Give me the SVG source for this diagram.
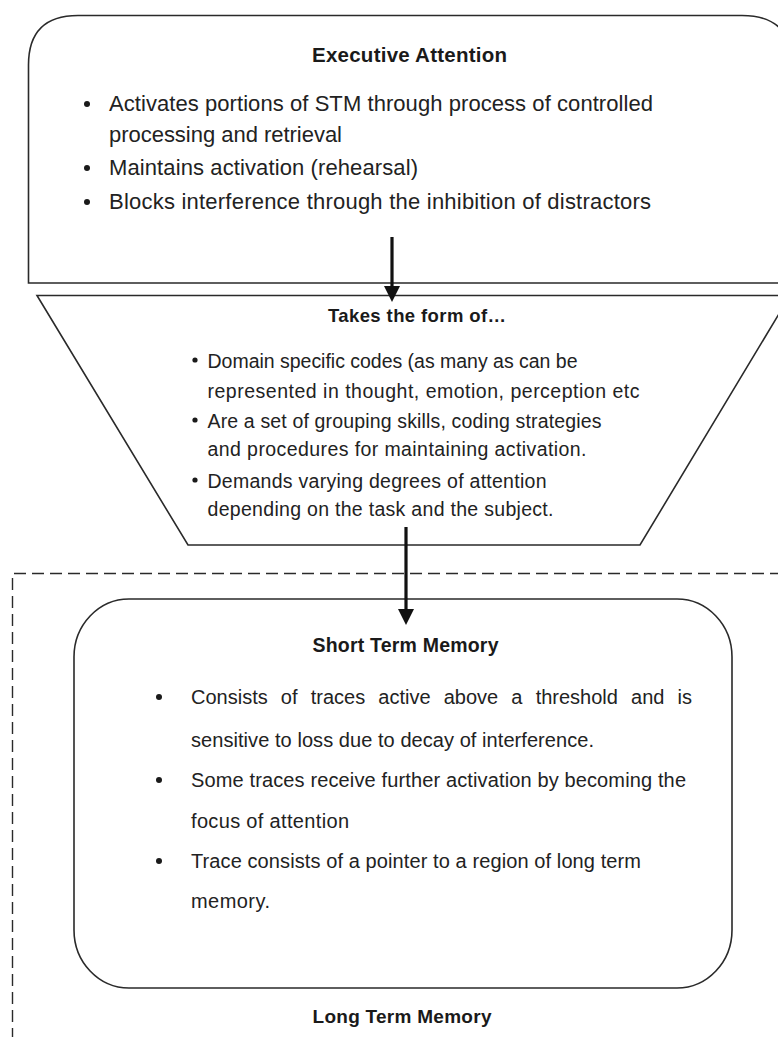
<svg xmlns="http://www.w3.org/2000/svg" width="778" height="1037" viewBox="0 0 778 1037">
  <style>
    .frame { fill: #fff; stroke: #2a2a2a; stroke-width: 1.6; }
    .dash { fill: none; stroke: #2a2a2a; stroke-width: 1.4; stroke-dasharray: 12 6; }
    .title { font-family: "Liberation Sans", Arial, sans-serif; font-weight: bold; fill: #1a1a1a; text-anchor: middle; }
    .body { font-family: "Liberation Sans", Arial, sans-serif; fill: #222; }
    .dot { fill: #1a1a1a; }
    .conn { stroke: #111; stroke-width: 3.2; fill: none; }
  </style>
  <defs>
    <marker id="head" markerWidth="18" markerHeight="18" refX="2" refY="8" orient="auto" markerUnits="userSpaceOnUse">
      <path d="M0,0 L16,8 L0,16 z" fill="#111"/>
    </marker>
  </defs>
  <rect width="778" height="1037" fill="#fff"/>

  <!-- Long term memory region (dashed, runs off the right and bottom edges) -->
  <g id="long-term-memory">
    <path class="dash" d="M12.5,1040 V573.5 H782"/>
    <text class="title" x="402" y="1023" font-size="19" textLength="179">Long Term Memory</text>
  </g>

  <!-- Executive attention box -->
  <g id="executive-attention">
    <path class="frame" d="M28.5,283 V65 Q28.5,15.5 78,15.5 H742 Q792,15.5 792,65 V283 Z"/>
    <text class="title" x="409.5" y="62" font-size="20.5" textLength="195">Executive Attention</text>
    <circle class="dot" cx="87" cy="104" r="3"/>
    <circle class="dot" cx="87" cy="168" r="3"/>
    <circle class="dot" cx="87" cy="202" r="3"/>
    <text class="body" x="109" y="111" font-size="22" textLength="544">Activates portions of STM through process of controlled</text>
    <text class="body" x="109" y="142" font-size="22" textLength="233">processing and retrieval</text>
    <text class="body" x="109" y="175" font-size="22" textLength="309">Maintains activation (rehearsal)</text>
    <text class="body" x="109" y="209" font-size="22" textLength="542">Blocks interference through the inhibition of distractors</text>
  </g>

  <!-- Funnel: takes the form of -->
  <g id="takes-the-form-of">
    <path class="frame" d="M37,295.5 H790 L640,545 H188 Z"/>
    <text class="title" x="417" y="322" font-size="18.5" textLength="178">Takes the form of…</text>
    <circle class="dot" cx="195" cy="360" r="2.6"/>
    <circle class="dot" cx="195" cy="420" r="2.6"/>
    <circle class="dot" cx="195" cy="480" r="2.6"/>
    <text class="body" x="207.5" y="368" font-size="19.5" textLength="370">Domain specific codes (as many as can be</text>
    <text class="body" x="207.5" y="398" font-size="19.5" textLength="432">represented in thought, emotion, perception etc</text>
    <text class="body" x="207.5" y="428" font-size="19.5" textLength="394">Are a set of grouping skills, coding strategies</text>
    <text class="body" x="207.5" y="456" font-size="19.5" textLength="379">and procedures for maintaining activation.</text>
    <text class="body" x="207.5" y="488" font-size="19.5" textLength="339">Demands varying degrees of attention</text>
    <text class="body" x="207.5" y="516" font-size="19.5" textLength="346">depending on the task and the subject.</text>
  </g>

  <!-- Short term memory box -->
  <g id="short-term-memory">
    <rect class="frame" x="74" y="599" width="658" height="389" rx="55" ry="58"/>
    <text class="title" x="405.5" y="652" font-size="19.5" textLength="186">Short Term Memory</text>
    <circle class="dot" cx="159" cy="697" r="3"/>
    <circle class="dot" cx="159" cy="780" r="3"/>
    <circle class="dot" cx="159" cy="861" r="3"/>
    <!-- justified first line: extra space between words -->
    <text class="body" x="191" y="704" font-size="20" word-spacing="7.6">Consists of traces active above a threshold and is</text>
    <text class="body" x="191" y="747" font-size="20" textLength="403">sensitive to loss due to decay of interference.</text>
    <text class="body" x="191" y="787" font-size="20" textLength="495">Some traces receive further activation by becoming the</text>
    <text class="body" x="191" y="828" font-size="20" textLength="158">focus of attention</text>
    <text class="body" x="191" y="868" font-size="20" textLength="450">Trace consists of a pointer to a region of long term</text>
    <text class="body" x="191" y="908" font-size="20" textLength="79">memory.</text>
  </g>

  <!-- Connectors -->
  <g id="connectors">
    <line class="conn" x1="392" y1="237" x2="392" y2="288" marker-end="url(#head)"/>
    <line class="conn" x1="406" y1="527" x2="406" y2="611" marker-end="url(#head)"/>
  </g>
</svg>
